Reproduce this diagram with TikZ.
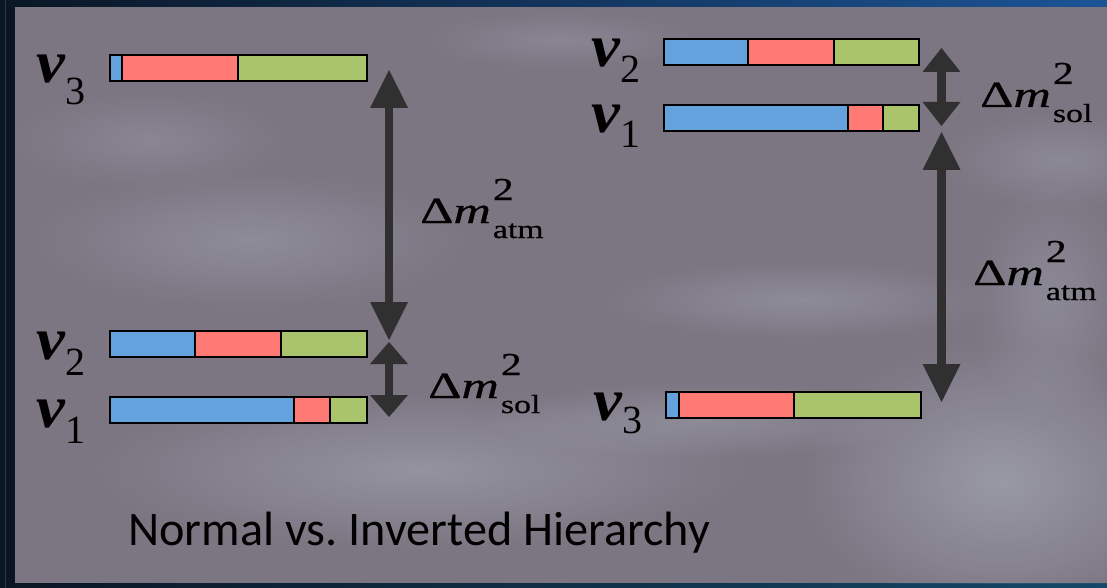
\documentclass[tikz,border=0pt]{standalone}
\usepackage{fontspec}
\setmainfont{Liberation Serif}
\newfontfamily\carlito{Carlito}
\newfontfamily\dmfont{Liberation Serif}[FakeBold=0.6]
\usepackage{graphicx}
\usetikzlibrary{arrows.meta,fadings}
\definecolor{cblue}{RGB}{100,162,222}
\definecolor{cred}{RGB}{255,122,117}
\definecolor{cgreen}{RGB}{169,196,107}
\definecolor{arrowc}{RGB}{48,48,48}
\definecolor{navy}{RGB}{10,22,36}
\definecolor{glow}{RGB}{28,84,150}
\definecolor{teal}{RGB}{20,72,104}
\definecolor{photo}{RGB}{124,117,130}
\definecolor{cloud}{RGB}{190,200,212}
\tikzfading[name=softblob, inner color=transparent!20, outer color=transparent!100]
\newcommand\nulab[2]{\scalebox{1.08}[1]{\fontsize{60}{60}\selectfont\bfseries\itshape ν}\kern1pt\raisebox{-#2pt}{\fontsize{40}{40}\selectfont #1}}
\newcommand\dmsq[1]{\dmfont\scalebox{1.4}[1]{\fontsize{37}{37}\selectfont Δ\textit{m}}\kern2pt\rlap{\raisebox{23pt}{\scalebox{1.3}[1]{\fontsize{32}{32}\selectfont 2}}}\raisebox{-15pt}{\scalebox{1.3}[1]{\fontsize{26}{26}\selectfont #1}}}
\newcommand\nubar[6]{%
  \fill[cblue] (#2,#3) rectangle (#4,#3+26);
  \fill[cred] (#4,#3) rectangle (#5,#3+26);
  \fill[cgreen] (#5,#3) rectangle (#6,#3+26);
  \draw[barline] (#4,#3) -- (#4,#3+26) (#5,#3) -- (#5,#3+26);
  \node[barframe, minimum width={#6-#2}, minimum height=26] (#1) at ({(#2+#6)/2},#3+13) {};
}
\tikzset{
  barline/.style={draw=black, line width=1.6pt},
  barframe/.style={draw=black, line width=1.8pt, inner sep=0pt, outer sep=0pt},
  lab/.style={inner sep=0pt, anchor=base west, text=black},
  darr/.style={draw=arrowc, line width=8.5pt,
    arrows={Triangle[width=38pt,length=#1,line width=0pt]-Triangle[width=38pt,length=#1,line width=0pt]}},
  blob/.style={fill=cloud, path fading=softblob}
}
\begin{document}
\begin{tikzpicture}[x=1pt,y=-1pt]
\useasboundingbox (0,0) rectangle (1107,588);
% frame
\fill[navy] (0,0) rectangle (1107,588);
\shade[left color=navy, right color=glow] (0,0) rectangle (1107,7);
\shade[left color=navy, right color=teal] (0,583) rectangle (1107,588);
\draw[color={rgb,255:red,40;green,58;blue,78}, line width=1pt] (5,0) -- (5,588);
% photo
\fill[photo] (15,7) rectangle (1107,583);
\begin{scope}
\clip (15,7) rectangle (1107,583);
\fill[blob, opacity=0.35] (250,240) ellipse (220pt and 70pt);
\fill[blob, opacity=0.25] (150,140) ellipse (140pt and 50pt);
\fill[blob, opacity=0.45] (420,470) ellipse (330pt and 80pt);
\fill[blob, opacity=0.55] (1000,480) ellipse (200pt and 140pt);
\fill[blob, opacity=0.35] (800,300) ellipse (200pt and 40pt);
\fill[blob, opacity=0.35] (700,420) ellipse (220pt and 40pt);
\fill[blob, opacity=0.3] (1060,160) ellipse (120pt and 50pt);
\fill[blob, opacity=0.25] (560,40) ellipse (140pt and 30pt);
\fill[blob, opacity=0.3] (1050,300) ellipse (80pt and 120pt);
\end{scope}
% normal hierarchy bars
\nubar{nh3}{110}{55}{122}{238}{367}
\nubar{nh2}{110}{331}{195}{281}{367}
\nubar{nh1}{110}{397}{294}{330}{367}
% inverted hierarchy bars
\nubar{ih2}{664}{39}{748}{834}{919}
\nubar{ih1}{664}{105}{848}{883}{919}
\nubar{ih3}{666}{392}{679}{794}{921}
% labels
\node[lab] (lnh3) at (36,83) {\nulab{3}{22}};
\node[lab] (lnh2) at (36,359) {\nulab{2}{16}};
\node[lab] (lnh1) at (36,427) {\nulab{1}{16}};
\node[lab] (lih2) at (591,67) {\nulab{2}{16}};
\node[lab] (lih1) at (591,133) {\nulab{1}{15}};
\node[lab] (lih3) at (593,420) {\nulab{3}{13}};
% arrows
\coordinate (na1) at (389,70);
\coordinate (na2) at (389,340);
\coordinate (ns1) at (389,342);
\coordinate (ns2) at (389,417);
\coordinate (is1) at (941.5,48);
\coordinate (is2) at (941.5,126);
\coordinate (ia1) at (941.5,132);
\coordinate (ia2) at (941.5,402);
\draw[darr=38pt] (na1) -- (na2);
\draw[darr=22pt] (ns1) -- (ns2);
\draw[darr=24pt] (is1) -- (is2);
\draw[darr=38pt] (ia1) -- (ia2);
% mass splitting labels
\node[lab] (dnatm) at (420,223) {\dmsq{atm}};
\node[lab] (dnsol) at (428,398) {\dmsq{sol}};
\node[lab] (disol) at (980,107) {\dmsq{sol}};
\node[lab] (diatm) at (973,285) {\dmsq{atm}};
% caption
\node[lab] (cap) at (128,545) {\carlito\fontsize{48.2}{48}\selectfont Normal vs.\ Inverted Hierarchy};
\end{tikzpicture}
\end{document}
